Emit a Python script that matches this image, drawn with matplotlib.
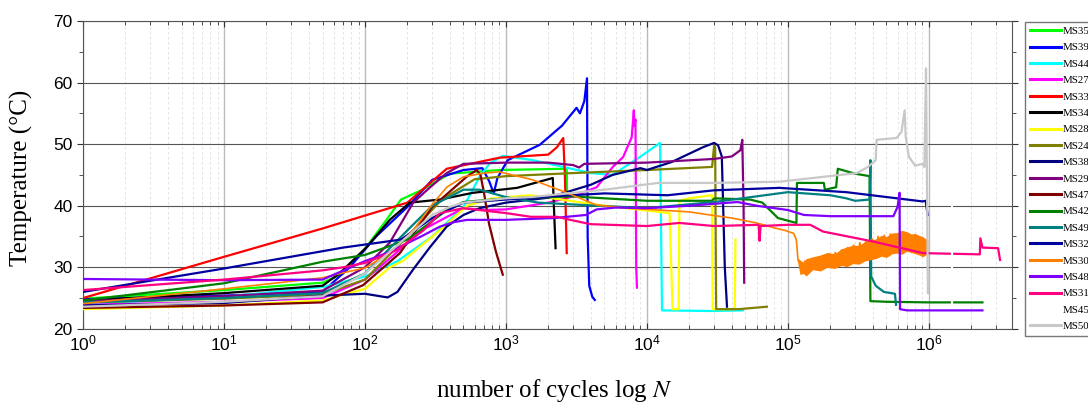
import matplotlib
matplotlib.use("Agg")
import matplotlib.pyplot as plt
from matplotlib.ticker import LogLocator, MultipleLocator, NullFormatter

plt.rcParams['font.family'] = ['Liberation Sans', 'DejaVu Sans']
plt.rcParams['mathtext.fontset'] = 'custom'
plt.rcParams['mathtext.rm'] = 'Liberation Sans'
plt.rcParams['mathtext.it'] = 'Liberation Sans:italic'

# temperature curves, (cycles, temperature)
N_MS35 = [1, 10, 50, 70, 100, 140, 180, 250, 400, 900, 2650, 2700, 2720]
T_MS35 = [24.9, 26.3, 27.5, 29, 33, 37.5, 41, 42.5, 45.2, 45.8, 46, 45.8, 41]

N_MS39 = [1, 10, 50, 78, 120, 200, 300, 500, 680, 760, 820, 870, 1030, 1740,
          2500, 3170, 3350, 3600, 3760, 3800, 3900, 4100, 4270]
T_MS39 = [24.8, 25.4, 26, 30, 35, 39.8, 44.2, 45.8, 46.1, 44, 42, 44.5, 47.4, 49.9,
          53, 55.9, 55, 57, 60.7, 35, 27, 25.2, 24.7]

N_MS44 = [1, 10, 50, 100, 170, 300, 500, 650, 770, 950, 1550, 4000, 5700, 8900,
          12400, 12800, 28000, 48000]
T_MS44 = [24, 25.2, 26.8, 28.5, 31, 35, 39.8, 44.7, 46.9, 48.1, 47.4, 45.3, 45, 47.9,
          50.2, 23, 22.9, 23]

N_MS27 = [1, 10, 50, 100, 180, 257, 500, 700, 1000, 2000, 3000, 4400, 5730, 6780,
          7800, 8080, 8150, 8300, 8400, 8500]
T_MS27 = [23.9, 24.4, 25, 28, 33, 36.1, 39.6, 39.3, 39.4, 40.5, 41.5, 43, 46.3, 47.9,
          51.1, 55.5, 53, 54, 30, 26.7]

N_MS33 = [1, 10, 50, 200, 380, 900, 2000, 2300, 2550, 2620, 2700]
T_MS33 = [25, 31.7, 36.3, 40.5, 46, 47.8, 48.3, 49.5, 51, 45, 32.3]

N_MS34 = [1, 10, 50, 66, 103, 150, 208, 340, 585, 1200, 2150, 2250]
T_MS34 = [24.6, 25.8, 27, 29, 33.3, 37.7, 40.5, 41, 42.1, 42.9, 44.5, 33.1]

N_MS28 = [1, 10, 50, 100, 150, 185, 340, 530, 800, 1500, 5000, 14500, 15200,
          16800, 17000, 20000, 28900, 29300, 42000, 42500]
T_MS28 = [23.2, 23.8, 24.6, 26.5, 30, 31, 36, 40, 41.2, 41.7, 40, 38.8, 23.2,
          23.2, 40.8, 41.2, 41.7, 23.2, 23.2, 34.5]

N_MS24 = [1, 10, 50, 100, 200, 350, 600, 1000, 3000, 10000, 29000, 30000, 30500,
          31000, 45000, 71000]
T_MS24 = [24.3, 24.9, 25.6, 28, 35, 41, 44.3, 44.8, 45.3, 45.8, 46.3, 49.8, 49.4,
          23.2, 23.2, 23.6]

N_MS38 = [1, 10, 50, 100, 145, 170, 219, 290, 380, 500, 650, 1000, 2000, 4000, 5700,
          9000, 10000, 15000, 25000, 30000, 32000, 34000, 35700, 37000]
T_MS38 = [23.8, 24.2, 25.4, 25.7, 25.1, 26, 29.6, 33.3, 36.6, 38.5, 39.6, 40.5, 41.3,
          43.4, 45, 46.1, 45.8, 47.1, 49.5, 50.2, 49.8, 48, 30, 23.6]

N_MS29 = [1, 10, 50, 100, 150, 220, 290, 380, 500, 1000, 2000, 3000, 3300, 3600,
          10000, 30000, 40000, 46000, 47500, 48500, 49000]
T_MS29 = [24.5, 25.3, 26.2, 30, 34, 40.5, 43, 45.3, 46.8, 47, 47, 46.6, 46.2, 46.8,
          47, 47.6, 48, 49, 50.7, 40, 27.5]

N_MS47 = [1, 10, 50, 97, 177, 300, 527, 620, 660, 700, 760, 850, 950]
T_MS47 = [23.4, 23.8, 24.3, 27.1, 32.3, 39.8, 44.7, 45.8, 45, 42, 37, 32.5, 28.8]

N_MS42 = [1, 10, 50, 100, 200, 300, 380, 500, 1000, 3000, 10000, 29000, 30000,
          54000, 66000, 85000, 115000, 116000, 180000, 183000, 220000, 226000,
          300000, 380000, 385000, 500000, 1000000, 2400000]
T_MS42 = [24.6, 27.4, 30.9, 32, 34.5, 37.5, 39.3, 40.6, 41.2, 41.5, 40.8, 40.8, 41.2,
          41, 40.5, 38, 37.2, 43.7, 43.7, 42.6, 43, 46, 45.2, 44.8, 24.5, 24.4,
          24.3, 24.3]

N_MS49 = [1, 10, 50, 100, 200, 300, 500, 650, 1000, 1700, 3000, 10000, 30000,
          100000, 200000, 260000, 300000, 380000, 385000, 390000, 420000, 480000,
          575000, 585000]
T_MS49 = [24.3, 25, 25.8, 29, 36, 40, 42.6, 42.6, 41.4, 40.5, 40.2, 39.6, 40.6,
          42.2, 41.7, 41.2, 40.8, 41, 47.4, 28.5, 27, 26, 25.7, 23.9]

N_MS32 = [1, 10, 70, 180, 300, 500, 1000, 2000, 5000, 14000, 30000, 87000,
          260000, 900000, 950000, 980000]
T_MS32 = [26, 29.8, 33.2, 34.5, 38, 40.5, 41, 41.5, 42, 41.7, 42.5, 42.9,
          42.2, 40.7, 40.8, 38.5]

N_MS30 = [1, 10, 50, 70, 100, 150, 220, 290, 380, 500, 700, 900, 1550, 2700, 4400,
          7300, 20000, 28000, 40000, 60000, 80000, 95000, 110000, 115000, 118000,
          126000, 132000, 138000, 145000, 152000, 160000, 168000, 177000, 186000,
          196000, 206000, 217000, 228000, 240000, 252000, 265000, 279000, 293000,
          308000, 324000, 341000, 358000, 376000, 396000, 416000, 437000, 460000,
          483000, 508000, 534000, 561000, 590000, 620000, 652000, 685000, 720000,
          757000, 796000, 836000, 879000, 924000, 960000, 975000]
T_MS30 = [24.1, 26.5, 28.3, 29.1, 29.9, 32.3, 36, 39.8, 43, 44.7, 45.3, 45.5, 44.2,
          42.1, 40.1, 39.6, 39, 38.5, 38, 37.2, 36.4, 36, 35.5, 34.4, 31.2,
          29.6, 31.0, 29.4, 31.2, 29.8, 31.4, 30.0, 31.8, 30.2,
          32.2, 30.4, 32.4, 30.8, 32.8, 31.0, 33.2, 31.4, 33.6,
          31.6, 34.0, 32.0, 34.2, 32.2, 34.6, 32.4, 35.0, 32.6,
          35.2, 32.8, 35.4, 32.6, 35.4, 32.6, 35.6, 32.6, 35.4,
          32.4, 35.2, 32.4, 34.8, 32.2, 34.4, 33.0]

# spread of the noisy MS30 signal after the drop
N_MS30_band = [118000, 122000, 128000, 135000, 150000, 170000, 190000, 215000,
               240000, 262000, 290000, 320000, 350000, 382000, 420000, 460000,
               500000, 550000, 593000, 640000, 698000, 750000, 800000, 850000,
               906000, 950000, 984000]
T_MS30_lo = [30.5, 28.8, 29.0, 28.6, 29.6, 29.4, 30.0, 29.8, 30.3, 30.1, 30.6, 30.5,
             31.0, 31.2, 31.4, 31.8, 31.6, 32.2, 32.3, 32.1, 32.6, 32.4, 32.2, 32.0,
             31.7, 32.0, 32.4]
T_MS30_hi = [31.5, 31.2, 30.8, 31.4, 31.7, 32.0, 32.4, 32.2, 33.0, 33.3, 33.6, 33.5,
             34.2, 34.4, 34.6, 35.2, 35.0, 35.6, 35.6, 36.0, 35.8, 35.4, 35.5, 35.2,
             35.0, 34.6, 34.4]

N_MS48 = [1, 10, 50, 100, 143, 250, 340, 420, 530, 1000, 2200, 3700, 4400, 6000,
          10000, 20000, 44000, 60000, 100000, 130000, 200000, 560000, 600000,
          620000, 625000, 700000, 2400000]
T_MS48 = [28.1, 27.9, 28, 31, 32.3, 35, 36.6, 37.3, 37.7, 37.7, 38, 38.5, 39.4, 39.7,
          39.6, 40, 40.6, 40, 39.3, 38.5, 38.3, 38.3, 39.8,
          42.1, 23.2, 23, 23]

N_MS31 = [1, 10, 50, 70, 100, 168, 260, 340, 500, 1000, 1500, 2300, 3000, 4000,
          10000, 17000, 30000, 62000, 63000, 64000, 100000, 144000, 178000, 400000,
          910000, 2300000, 2320000, 2400000, 3100000, 3200000]
T_MS31 = [26.3, 28, 29.5, 30, 30.7, 32.8, 36, 38.8, 39.6, 38.8, 38.2, 38.2, 37.6, 37,
          36.7, 37.2, 36.7, 36.9, 34.3, 36.7, 36.9, 36.9, 35.8, 34.2,
          32.3, 32.1, 34.7, 33.2, 33.1, 31.2]

N_MS45 = [1450000, 1450000]
T_MS45 = [23.5, 41.5]

N_MS50 = [1, 10, 50, 100, 200, 300, 400, 500, 1000, 1500, 5000, 12000, 30000, 87000,
          309000, 370000, 420000, 426000, 590000, 640000, 674000, 685000, 720000,
          800000, 900000, 930000, 955000, 965000, 985000]
T_MS50 = [23.6, 24.4, 25.3, 29, 35, 38.5, 39.8, 40.5, 41.2, 41.4, 42.6, 43.7, 43.7,
          43.9, 45.3, 46.3, 47.4, 50.7, 51, 52, 55.5, 51.3, 48,
          46.5, 46.8, 46.3, 62.3, 50, 25.8]

series = [
    ("MS35", N_MS35, T_MS35, "#00ff00"),
    ("MS39", N_MS39, T_MS39, "#0000ff"),
    ("MS44", N_MS44, T_MS44, "#00ffff"),
    ("MS27", N_MS27, T_MS27, "#ff00ff"),
    ("MS33", N_MS33, T_MS33, "#ff0000"),
    ("MS34", N_MS34, T_MS34, "#000000"),
    ("MS28", N_MS28, T_MS28, "#ffff00"),
    ("MS24", N_MS24, T_MS24, "#808000"),
    ("MS38", N_MS38, T_MS38, "#000080"),
    ("MS29", N_MS29, T_MS29, "#800080"),
    ("MS47", N_MS47, T_MS47, "#800000"),
    ("MS42", N_MS42, T_MS42, "#008000"),
    ("MS49", N_MS49, T_MS49, "#008080"),
    ("MS32", N_MS32, T_MS32, "#0000a0"),
    ("MS30", N_MS30, T_MS30, "#ff8000"),
    ("MS48", N_MS48, T_MS48, "#8000ff"),
    ("MS31", N_MS31, T_MS31, "#ff0080"),
    ("MS45", N_MS45, T_MS45, "#ffffff"),
    ("MS50", N_MS50, T_MS50, "#c8c8c8"),
]

fig = plt.figure(figsize=(10.88, 4.07), dpi=100)
ax = fig.add_axes([0.0763, 0.192, 0.8537, 0.7564])

for name, n, t, c in series:
    lw = 1.2 if name == "MS30" else 1.6
    ax.plot(n, t, color=c, lw=lw, label=name, zorder=3 if name != "MS45" else 4)
    if name == "MS30":
        ax.fill_between(N_MS30_band, T_MS30_lo, T_MS30_hi, color=c, lw=0, zorder=3)

ax.set_xscale("log")
ax.set_xlim(1, 3.88e6)
ax.set_ylim(20, 70)
ax.yaxis.set_major_locator(MultipleLocator(10))
ax.yaxis.set_minor_locator(MultipleLocator(5))
ax.xaxis.set_major_locator(LogLocator(base=10, numticks=10))
ax.xaxis.set_minor_locator(LogLocator(base=10, subs=range(2, 10), numticks=20))
ax.xaxis.set_minor_formatter(NullFormatter())

ax.grid(True, which="major", axis="y", color="#555555", lw=0.8, zorder=1)
ax.grid(True, which="major", axis="x", color="#bbbbbb", lw=1.0, zorder=1)
ax.grid(True, which="minor", axis="x", color="#dddddd", lw=0.6, ls=(0, (3, 3)), zorder=1)

ax.tick_params(which="both", top=True, right=True, labelsize=12.5, color="#333333")
ax.tick_params(which="major", length=4)
ax.tick_params(which="minor", length=3)
ax.tick_params(axis="x", which="both", top=True, direction="in")
for s in ax.spines.values():
    s.set_color("#555555")

ax.set_ylabel("Temperature (°C)", family="Liberation Serif", fontsize=18)
ax.yaxis.set_label_coords(-0.054, 0.49)
ax.set_xlabel("number of cycles log $N$", family="Liberation Serif", fontsize=18)
ax.xaxis.label.set_math_fontfamily("stix")
ax.xaxis.set_label_coords(0.507, -0.155)

leg = fig.legend(loc="upper left", bbox_to_anchor=(0.9425, 0.946), frameon=True,
                 fancybox=False, edgecolor="#555555",
                 prop={"family": "Liberation Serif", "size": 7.8},
                 labelspacing=0.63, handlelength=2.9, handletextpad=0.12,
                 borderpad=0.4, borderaxespad=0)
leg.get_frame().set_linewidth(1.0)
for h in leg.get_lines():
    h.set_linewidth(2.2)

fig.savefig("out.png", dpi=100)
